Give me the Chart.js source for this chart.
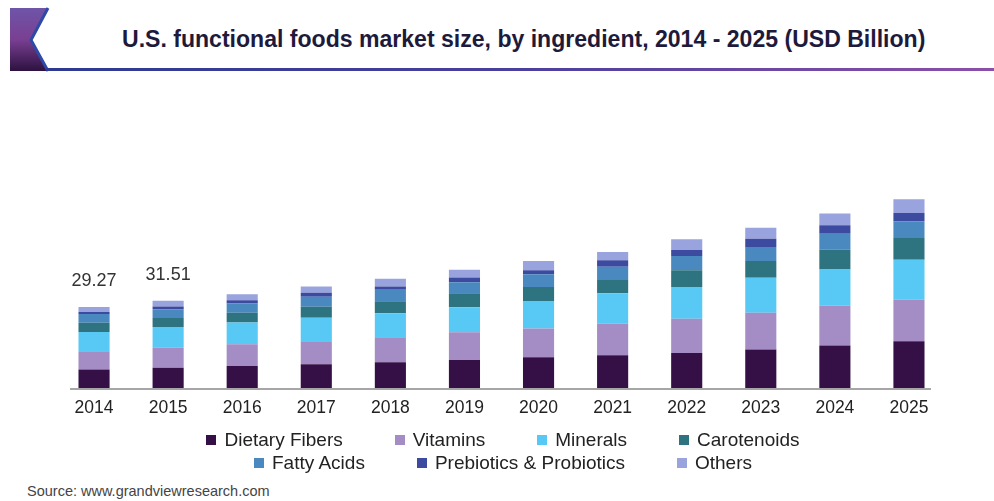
<!DOCTYPE html>
<html lang="en">
<head>
  <meta charset="UTF-8">
  <title>U.S. functional foods market size, by ingredient</title>
  <script src="https://cdn.jsdelivr.net/npm/chart.js"></script>
  <style>
    html, body {
      margin: 0;
      padding: 0;
      background: #fff;
      width: 994px;
      height: 501px;
      overflow: hidden;
      font-family: 'Liberation Sans', Arial, sans-serif;
    }
    .badge {
      position: absolute;
      left: 0;
      top: 0;
    }
    .title {
      position: absolute;
      left: 122px;
      top: 26px;
      font-size: 23px;
      font-weight: bold;
      color: #1e1a3c;
      white-space: nowrap;
      transform-origin: left top;
    }
    .rule {
      position: absolute;
      left: 46px;
      top: 68px;
      width: 948px;
      height: 3px;
      background: linear-gradient(to right, #2c3a92, #4a3f9e 50%, #8c4fa8);
    }
    .chart-box {
      position: absolute;
      left: 0;
      top: 0;
      width: 994px;
      height: 430px;
    }
    .legend {
      position: absolute;
      left: 0;
      top: 428px;
      width: 1006px;
    }
    .legend-row {
      display: flex;
      justify-content: center;
      gap: 52px;
      height: 23px;
      align-items: center;
    }
    .legend-item {
      display: flex;
      align-items: center;
      font-size: 19px;
      color: #222;
    }
    .legend-item i {
      display: inline-block;
      width: 10px;
      height: 10px;
      margin-right: 8px;
    }
    .source {
      position: absolute;
      left: 27px;
      top: 483px;
      font-size: 14.5px;
      color: #444;
    }
  </style>
</head>
<body>
  <svg class="badge" width="60" height="80">
    <defs>
      <linearGradient id="badgeFill" x1="0" y1="0" x2="0" y2="1">
        <stop offset="0" stop-color="#6d55a8"/>
        <stop offset="0.5" stop-color="#7a3f92"/>
        <stop offset="1" stop-color="#2c1240"/>
      </linearGradient>
    </defs>
    <polygon points="10,8 48,8 31,40 48,71 10,71" fill="url(#badgeFill)"/>
    <polyline points="48,8 31,40 48,71" fill="none" stroke="#2e4aa6" stroke-width="3"/>
  </svg>
  <div class="title" id="title">U.S. functional foods market size, by ingredient, 2014 - 2025 (USD Billion)</div>
  <div class="rule"></div>
  <div class="chart-box"><canvas id="marketChart"></canvas></div>
  <div class="legend" id="legend"></div>
  <div class="source">Source: www.grandviewresearch.com</div>
  <script>
    const years = ['2014', '2015', '2016', '2017', '2018', '2019', '2020', '2021', '2022', '2023', '2024', '2025'];
    const dietaryFibers = [6.68, 7.30, 7.97, 8.59, 9.28, 10.14, 11.12, 11.85, 12.68, 13.91, 15.33, 16.88];
    const vitamins = [6.61, 7.25, 7.86, 8.33, 9.06, 10.00, 10.40, 11.49, 12.32, 13.26, 14.49, 15.11];
    const minerals = [6.98, 7.50, 7.86, 8.44, 8.70, 9.06, 9.89, 10.87, 11.49, 12.68, 13.04, 14.38];
    const carotenoids = [3.30, 3.30, 3.50, 3.99, 4.35, 5.07, 5.07, 4.82, 6.05, 6.05, 7.14, 7.83];
    const fattyAcids = [3.15, 3.10, 3.37, 3.62, 4.13, 4.00, 4.60, 4.82, 5.18, 5.07, 5.80, 6.05];
    const prebiotics = [0.75, 1.00, 1.20, 1.45, 1.20, 1.70, 1.45, 2.32, 2.17, 3.00, 3.00, 3.00];
    const others = [1.80, 2.06, 2.17, 2.30, 2.79, 2.79, 3.37, 3.00, 3.88, 3.99, 4.24, 4.96];
    // years whose stacked total is printed above the bar
    const labelledYears = ['2014', '2015'];

    // fit the title to its box
    const title = document.getElementById('title');
    title.style.transform = 'scaleX(' + (803 / title.offsetWidth) + ')';

    const series = [
      { label: 'Dietary Fibers', data: dietaryFibers, color: '#341046' },
      { label: 'Vitamins', data: vitamins, color: '#a38dc4' },
      { label: 'Minerals', data: minerals, color: '#58c9f4' },
      { label: 'Carotenoids', data: carotenoids, color: '#2e7480' },
      { label: 'Fatty Acids', data: fattyAcids, color: '#4a88c0' },
      { label: 'Prebiotics & Probiotics', data: prebiotics, color: '#3c4aa0' },
      { label: 'Others', data: others, color: '#99a3dd' }
    ];

    // totals above selected bars, plus a baseline that stops short of the plot edges
    const barExtras = {
      id: 'barExtras',
      beforeDatasetsDraw(chart) {
        const ctx = chart.ctx;
        const x = chart.scales.x;
        const y0 = chart.scales.y.getPixelForValue(0) + 1;
        ctx.save();
        ctx.strokeStyle = '#a6a6a6';
        ctx.lineWidth = 2;
        ctx.beginPath();
        ctx.moveTo(x.getPixelForValue(0) - 24, y0);
        ctx.lineTo(x.getPixelForValue(years.length - 1) + 22, y0);
        ctx.stroke();
        ctx.restore();
      },
      afterDatasetsDraw(chart) {
        const ctx = chart.ctx;
        const x = chart.scales.x;
        const y = chart.scales.y;
        ctx.save();
        ctx.font = '18px "Liberation Sans", Arial, sans-serif';
        ctx.fillStyle = '#333';
        ctx.textAlign = 'center';
        ctx.textBaseline = 'middle';
        labelledYears.forEach(year => {
          const i = years.indexOf(year);
          const total = series.reduce((sum, s) => sum + s.data[i], 0);
          ctx.fillText(total.toFixed(2), x.getPixelForValue(i), y.getPixelForValue(total) - 26);
        });
        ctx.restore();
      }
    };

    new Chart(document.getElementById('marketChart'), {
      type: 'bar',
      data: {
        labels: years,
        datasets: series.map(s => ({
          label: s.label,
          data: s.data,
          backgroundColor: s.color,
          borderWidth: 0,
          categoryPercentage: 1,
          barPercentage: 0.42
        }))
      },
      options: {
        responsive: true,
        maintainAspectRatio: false,
        animation: false,
        layout: { padding: { left: 57, right: 48, top: 166.7, bottom: 1 } },
        plugins: { legend: { display: false }, tooltip: { enabled: false } },
        scales: {
          x: {
            stacked: true,
            grid: { display: false, drawTicks: false },
            border: { display: false },
            ticks: { color: '#222', padding: 10, font: { size: 17.5, family: '"Liberation Sans", Arial, sans-serif' } }
          },
          y: { stacked: true, display: false, min: 0, max: 80 }
        }
      },
      plugins: [barExtras]
    });

    // legend in two centred rows
    const legend = document.getElementById('legend');
    [series.slice(0, 4), series.slice(4)].forEach(row => {
      const div = document.createElement('div');
      div.className = 'legend-row';
      row.forEach(s => {
        const item = document.createElement('span');
        item.className = 'legend-item';
        item.innerHTML = '<i style="background:' + s.color + '"></i>' + s.label.replace('&', '&amp;');
        div.appendChild(item);
      });
      legend.appendChild(div);
    });
  </script>
</body>
</html>
